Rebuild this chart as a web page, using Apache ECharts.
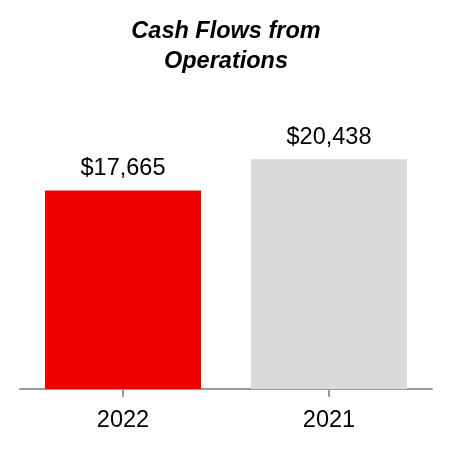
<!DOCTYPE html>
<html><head><meta charset="utf-8">
<script src="https://cdn.jsdelivr.net/npm/echarts@6/dist/echarts.min.js"></script>
<style>html,body{margin:0;padding:0;background:#fff}#c{width:452px;height:452px}</style>
</head><body><div id="c"></div>
<script>
const categories = ['2022', '2021'];
const values = [17665, 20438];
const barColors = ['#ee0000', '#d9dadb'];
const titleText = 'Cash Flows from\nOperations';

const chart = echarts.init(document.getElementById('c'), null, {renderer: 'canvas'});
chart.setOption({
  animation: false,
  title: {
    text: titleText, left: 'center', top: 12,
    textStyle: {fontFamily: 'Liberation Sans, Arial', fontSize: 23.5, fontWeight: 'bold', fontStyle: 'italic', color: '#000', lineHeight: 30}
  },
  grid: {left: 20, right: 20, top: 108, bottom: 63},
  xAxis: {
    type: 'category', data: categories,
    axisLine: {lineStyle: {color: '#9a9a9a', width: 2}},
    axisTick: {show: true, alignWithLabel: true, length: 8, lineStyle: {color: '#9a9a9a', width: 2}},
    axisLabel: {fontFamily: 'Liberation Sans, Arial', fontSize: 23.5, color: '#000', margin: 20}
  },
  yAxis: {type: 'value', min: 0, max: 25000, show: false, splitLine: {show: false}},
  series: [{
    type: 'bar', barWidth: 156,
    data: values.map((v, i) => ({value: v, itemStyle: {color: barColors[i]}})),
    label: {
      show: true, position: 'top', distance: 10,
      fontFamily: 'Liberation Sans, Arial', fontSize: 23.5, color: '#000',
      formatter: p => '$' + p.value.toLocaleString('en-US')
    }
  }]
});
</script></body></html>
